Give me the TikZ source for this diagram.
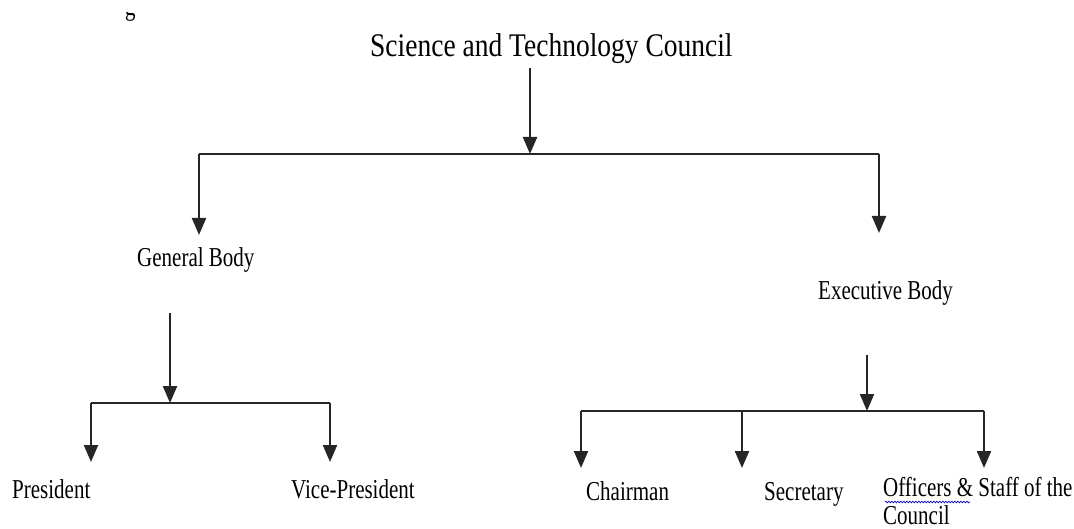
\documentclass[tikz,border=0pt]{standalone}
\usepackage{fontspec}
\setmainfont{Liberation Serif}
\usetikzlibrary{arrows.meta,decorations.pathmorphing}
\begin{document}
\begin{tikzpicture}[x=1pt,y=-1pt,
  lbl/.style={anchor=base west,inner sep=0pt,yscale=1.3,font=\fontsize{21}{19.2}\selectfont},
  ttl/.style={anchor=base west,inner sep=0pt,yscale=1.2,font=\fontsize{27.5}{30}\selectfont},
  conn/.style={line width=2.2pt,black!85},
  arr/.style={conn,-{Triangle[width=14pt,length=17pt]}}]
\useasboundingbox (0,0) rectangle (1074,529);
% cut-off heading above the chart
\begin{scope}
\clip (100,13) rectangle (160,25);
\node[lbl] (cut) at (125,16) {g};
\end{scope}
\node[ttl] (stc) at (370,57) {Science and Technology Council};
\node[lbl] (gb) at (137,267) {General Body};
\node[lbl] (eb) at (818,300) {Executive Body};
\node[lbl] (pr) at (12,498) {President};
\node[lbl] (vp) at (291,498) {Vice-President};
\node[lbl] (ch) at (586,500) {Chairman};
\node[lbl] (se) at (764,500) {Secretary};
\node[lbl,align=left] (os) at (883,524) {Officers \& Staff of the\\[2pt]Council};
% junction points
\coordinate (s0) at (530,68);  \coordinate (s1) at (530,154);
\coordinate (t1) at (199,154); \coordinate (t2) at (879,154);
\coordinate (t1e) at (199,235); \coordinate (t2e) at (879,233);
\coordinate (g0) at (170,313); \coordinate (g1) at (170,403);
\coordinate (g2) at (91,403);  \coordinate (g3) at (330,403);
\coordinate (g2e) at (91,462); \coordinate (g3e) at (330,462);
\coordinate (e0) at (867,355); \coordinate (e1) at (867,411);
\coordinate (e2) at (581,411); \coordinate (e3) at (742,411); \coordinate (e4) at (984,411);
\coordinate (e2e) at (581,468); \coordinate (e3e) at (742,468); \coordinate (e4e) at (984,468);
\draw[arr] (s0)--(s1);
\draw[conn] (t1)--(t2);
\draw[arr] (t1)--(t1e);
\draw[arr] (t2)--(t2e);
\draw[arr] (g0)--(g1);
\draw[conn] (g2)--(g3);
\draw[arr] (g2)--(g2e);
\draw[arr] (g3)--(g3e);
\draw[arr] (e0)--(e1);
\draw[conn] (e2)--(e4);
\draw[arr] (e2)--(e2e);
\draw[arr] (e3)--(e3e);
\draw[arr] (e4)--(e4e);
% spell-check mark
\draw[blue!70!black,line width=0.7pt,decorate,decoration={snake,amplitude=0.8pt,segment length=3pt}] (885,502)--(970,502);
\end{tikzpicture}
\end{document}
